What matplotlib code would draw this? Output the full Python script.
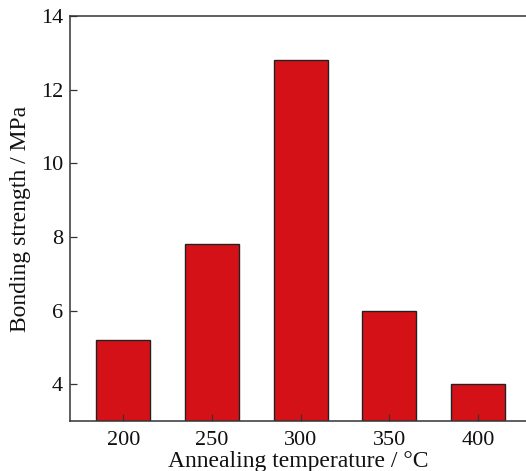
import matplotlib.pyplot as plt

# data
temps = ['200', '250', '300', '350', '400']
strength = [5.2, 7.8, 12.8, 6.0, 4.0]

plt.rcParams['font.family'] = ['Liberation Serif', 'DejaVu Serif']

fig = plt.figure(figsize=(5.26, 4.71), dpi=100)
ax = fig.add_axes([0.133, 0.106, 0.867, 0.86])

x = list(range(len(temps)))
ax.bar(x, strength, width=0.61, color='#d51118', edgecolor='#222222',
       linewidth=1.0, zorder=1)

ax.set_xlim(-0.6, 4.54)
ax.set_ylim(3, 14)
ax.set_xticks(x)
ax.set_xticklabels(temps)
ax.set_yticks([4, 6, 8, 10, 12, 14])

ax.spines['right'].set_visible(False)
for s in ['left', 'top', 'bottom']:
    ax.spines[s].set_color('#333333')
    ax.spines[s].set_linewidth(1.1)
    ax.spines[s].set_zorder(3)

ax.tick_params(direction='in', length=5, width=0.9, colors='#333333',
               labelcolor='#111111', labelsize=16, pad=5)
ax.tick_params(axis='x', top=False, pad=7)
ax.tick_params(axis='y', right=False)
for t in ax.xaxis.get_major_ticks() + ax.yaxis.get_major_ticks():
    t.tick1line.set_zorder(3)

ax.set_xlabel('Annealing temperature / \u00b0C', fontsize=17, labelpad=1,
              color='#111111')
ax.set_ylabel('Bonding strength / MPa', fontsize=17, labelpad=7,
              color='#111111')

plt.savefig('out.png', dpi=100)
